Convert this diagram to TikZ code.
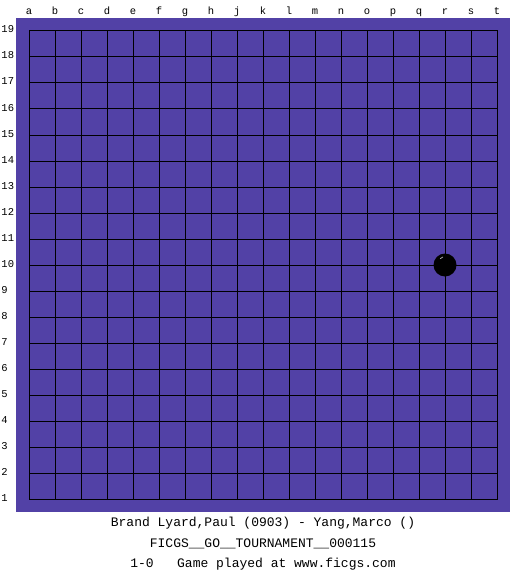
\documentclass[tikz,border=0pt]{standalone}
\usepackage{fontspec}
\setmonofont{Liberation Mono}
\definecolor{boardblue}{RGB}{82,65,166}

\begin{document}
\begin{tikzpicture}[x=1pt, y=-1pt, line width=1pt, line cap=rect]

  %% ════ board ════
  \fill[boardblue] (16,18) rectangle (510,512);

  %% ════ grid ════
  \foreach \i in {0,...,18} {
    \draw (29+26*\i,31) -- (29+26*\i,499);
    \draw (29,31+26*\i) -- (497,31+26*\i);
  }

  %% ════ coordinates ════
  \foreach \c [count=\i from 0] in {a,b,c,d,e,f,g,h,j,k,l,m,n,o,p,q,r,s,t}
    \node[font=\ttfamily\fontsize{10.5}{12}\selectfont, inner sep=0pt, anchor=base] (col-\c) at (29+26*\i,14.5) {\c};
  \foreach \r in {1,...,19}
    \node[font=\ttfamily\fontsize{10.5}{12}\selectfont, inner sep=0pt, anchor=base west] (row-\r) at ({1},{527-26*\r}) {\r};

  %% ════ stone r10 ════
  \fill (445,265) circle (11.5);
  \draw[gray!70, line width=0.8pt] (440.5,258.5) arc (225:250:6);

  %% ════ footer ════
  \node[font=\ttfamily\fontsize{13}{15}\selectfont, inner sep=0pt] (players) at (263,523) {Brand Lyard,Paul (0903) - Yang,Marco ()};
  \node[font=\ttfamily\fontsize{13}{15}\selectfont, inner sep=0pt] (event) at (263,544) {FICGS\_\_GO\_\_TOURNAMENT\_\_000115};
  \node[font=\ttfamily\fontsize{13}{15}\selectfont, inner sep=0pt] (result) at (263,564) {1-0\ \ \ Game played at www.ficgs.com};

  \pgfresetboundingbox
  \path[use as bounding box] (0,0) rectangle (525,575);
\end{tikzpicture}
\end{document}
